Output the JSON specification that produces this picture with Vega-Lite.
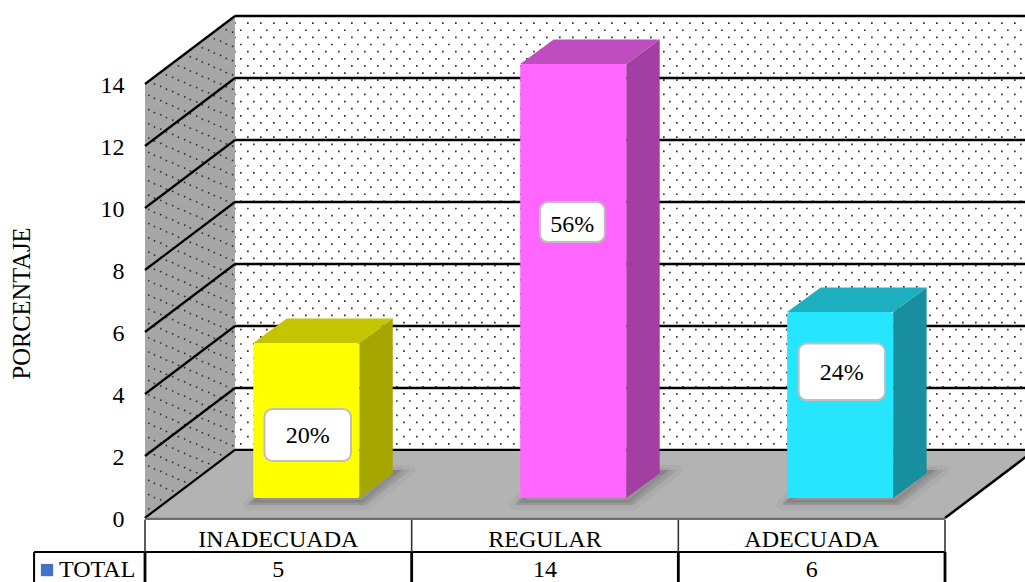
{
"$schema":"https://vega.github.io/schema/vega-lite/v6.json",
"width":800,"height":434,"autosize":"none",
"padding":{"left":145,"top":84,"right":80,"bottom":64},
"background":"white",
"config":{"view":{"stroke":null},"text":{"font":"Liberation Serif"}},
"datasets":{
"bars":[{"category":"INADECUADA","order":0,"total":5,"percent":"20%"},{"category":"REGULAR","order":1,"total":14,"percent":"56%"},{"category":"ADECUADA","order":2,"total":6,"percent":"24%"}],
"depth":[{"d":0},{"d":1}],
"levels":[{"v":0},{"v":2},{"v":4},{"v":6},{"v":8},{"v":10},{"v":12},{"v":14}],
"dotsA":[{"v":13.77},{"v":13.31},{"v":12.85},{"v":12.39},{"v":11.93},{"v":11.47},{"v":11.01},{"v":10.55},{"v":10.09},{"v":9.63},{"v":9.17},{"v":8.71},{"v":8.25},{"v":7.79},{"v":7.33},{"v":6.87},{"v":6.41},{"v":5.95},{"v":5.49},{"v":5.03},{"v":4.57},{"v":4.11},{"v":3.65},{"v":3.19},{"v":2.73},{"v":2.27},{"v":1.81},{"v":1.35},{"v":0.89},{"v":0.43}],
"dotsB":[{"v":13.54},{"v":13.08},{"v":12.62},{"v":12.16},{"v":11.7},{"v":11.24},{"v":10.78},{"v":10.32},{"v":9.86},{"v":9.4},{"v":8.94},{"v":8.48},{"v":8.02},{"v":7.56},{"v":7.1},{"v":6.64},{"v":6.18},{"v":5.72},{"v":5.26},{"v":4.8},{"v":4.34},{"v":3.88},{"v":3.42},{"v":2.96},{"v":2.5},{"v":2.04},{"v":1.58},{"v":1.12},{"v":0.66},{"v":0.2}],
"one":[{"id":1}],
"columns":[{"b":0},{"b":1},{"b":2},{"b":3}]
},
"encoding":{
"x":{"field":"x","type":"quantitative","axis":null,"scale":{"domain":[0,3]}},
"y":{"field":"y","type":"quantitative","scale":{"domain":[0,14]},"axis":{"title":"PORCENTAJE","values":[0,2,4,6,8,10,12,14],"format":"d","grid":false,"domain":false,"ticks":false,"labelPadding":21,"labelOffset":1.5,"labelFont":"Liberation Serif","labelFontSize":24,"labelColor":"#000","titleFont":"Liberation Serif","titleFontSize":24.5,"titleFontWeight":"normal","titleColor":"#000","titleX":-111,"titleY":219}}
},
"layer":[
{"data":{"name":"depth"},"transform":[{"calculate":"datum.d*0.3375","as":"x"},{"calculate":"datum.d*2.1935","as":"y"},{"calculate":"14+datum.d*2.1935","as":"y2"}],
 "mark":{"type":"area","color":"#a6a6a6","clip":false},"encoding":{"y2":{"field":"y2"}}},
{"data":{"name":"dotsA"},"transform":[{"calculate":"0","as":"x"},{"calculate":"0.3375","as":"x2"},{"calculate":"datum.v","as":"y"},{"calculate":"datum.v+2.1935","as":"y2"}],
 "mark":{"type":"rule","color":"#333","strokeWidth":1.6,"strokeDash":[1.6,13.4],"strokeDashOffset":4},"encoding":{"x2":{"field":"x2"},"y2":{"field":"y2"}}},
{"data":{"name":"dotsB"},"transform":[{"calculate":"0","as":"x"},{"calculate":"0.3375","as":"x2"},{"calculate":"datum.v","as":"y"},{"calculate":"datum.v+2.1935","as":"y2"}],
 "mark":{"type":"rule","color":"#333","strokeWidth":1.6,"strokeDash":[1.6,13.4],"strokeDashOffset":11},"encoding":{"x2":{"field":"x2"},"y2":{"field":"y2"}}},
{"data":{"name":"dotsA"},"transform":[{"calculate":"0.3375","as":"x"},{"calculate":"3.3375","as":"x2"},{"calculate":"datum.v+2.1935","as":"y"}],
 "mark":{"type":"rule","color":"#333","strokeWidth":1.7,"strokeDash":[1.7,11.3],"strokeDashOffset":1},"encoding":{"x2":{"field":"x2"}}},
{"data":{"name":"dotsB"},"transform":[{"calculate":"0.3375","as":"x"},{"calculate":"3.3375","as":"x2"},{"calculate":"datum.v+2.1935","as":"y"}],
 "mark":{"type":"rule","color":"#333","strokeWidth":1.7,"strokeDash":[1.7,11.3],"strokeDashOffset":8},"encoding":{"x2":{"field":"x2"}}},
{"data":{"name":"levels"},"transform":[{"calculate":"0.3375","as":"x"},{"calculate":"3.3375","as":"x2"},{"calculate":"datum.v+2.1935","as":"y"}],
 "mark":{"type":"rule","color":"#000","strokeWidth":2.4},"encoding":{"x2":{"field":"x2"}}},
{"data":{"name":"levels"},"transform":[{"calculate":"0","as":"x"},{"calculate":"0.3375","as":"x2"},{"calculate":"datum.v","as":"y"},{"calculate":"datum.v+2.1935","as":"y2"}],
 "mark":{"type":"rule","color":"#000","strokeWidth":2.2},"encoding":{"x2":{"field":"x2"},"y2":{"field":"y2"}}},
{"data":{"name":"depth"},"transform":[{"calculate":"datum.d*0.3375","as":"x"},{"calculate":"3+datum.d*0.3375","as":"x2"},{"calculate":"datum.d*2.1935","as":"y"}],
 "mark":{"type":"area","orient":"horizontal","color":"#b3b3b3"},"encoding":{"x2":{"field":"x2"}}},
{"data":{"name":"levels"},"transform":[{"filter":"datum.v==0"},{"calculate":"0.3375","as":"x"},{"calculate":"3.3375","as":"x2"},{"calculate":"2.1935","as":"y"}],
 "mark":{"type":"rule","color":"#000","strokeWidth":2},"encoding":{"x2":{"field":"x2"}}},
{"data":{"name":"levels"},"transform":[{"filter":"datum.v==0"},{"calculate":"0","as":"x"},{"calculate":"0.3375","as":"x2"},{"calculate":"0","as":"y"},{"calculate":"2.1935","as":"y2"}],
 "mark":{"type":"rule","color":"#000","strokeWidth":2},"encoding":{"x2":{"field":"x2"},"y2":{"field":"y2"}}},
{"data":{"name":"levels"},"transform":[{"filter":"datum.v==0"},{"calculate":"3","as":"x"},{"calculate":"3.3375","as":"x2"},{"calculate":"0","as":"y"},{"calculate":"2.1935","as":"y2"}],
 "mark":{"type":"rule","color":"#000","strokeWidth":2.5},"encoding":{"x2":{"field":"x2"},"y2":{"field":"y2"}}},
{"data":{"name":"one"},"transform":[{"calculate":"0","as":"x"},{"calculate":"3","as":"x2"},{"calculate":"-0.03","as":"y"}],
 "mark":{"type":"rule","color":"#6e6e6e","strokeWidth":2.2},"encoding":{"x2":{"field":"x2"}}},
{"data":{"name":"one"},"transform":[{"calculate":"-0.416","as":"x"},{"calculate":"3","as":"x2"},{"calculate":"-1.097","as":"y"}],
 "mark":{"type":"rule","color":"#000","strokeWidth":1.8},"encoding":{"x2":{"field":"x2"}}},
{"data":{"name":"one"},"transform":[{"calculate":"-0.416","as":"x"},{"calculate":"-1.097","as":"y"},{"calculate":"-2.1","as":"y2"}],
 "mark":{"type":"rule","color":"#000","strokeWidth":2},"encoding":{"y2":{"field":"y2"}}},
{"data":{"name":"columns"},"transform":[{"calculate":"datum.b","as":"x"},{"calculate":"-0.06","as":"y"},{"calculate":"-1.097","as":"y2"}],
 "mark":{"type":"rule","color":"#333","strokeWidth":1.6},"encoding":{"y2":{"field":"y2"}}},
{"data":{"name":"columns"},"transform":[{"calculate":"datum.b","as":"x"},{"calculate":"-1.097","as":"y"},{"calculate":"-2.1","as":"y2"}],
 "mark":{"type":"rule","color":"#000","strokeWidth":2.8},"encoding":{"y2":{"field":"y2"}}},
{"data":{"name":"bars"},"transform":[{"calculate":"[0,1]","as":"d"},{"flatten":["d"]},{"calculate":"datum.order*1.001+0.385+datum.d*0.1256","as":"x"},{"calculate":"datum.order*1.001+0.83+datum.d*0.1656","as":"x2"},{"calculate":"0.42+datum.d*1.13","as":"y"}],
 "mark":{"type":"area","orient":"horizontal","color":"#000","fillOpacity":0.08,"stroke":"#000","strokeOpacity":0.04,"strokeWidth":10,"strokeJoin":"round"},"encoding":{"x2":{"field":"x2"},"detail":{"field":"category"}}},
{"data":{"name":"bars"},"transform":[{"calculate":"[0,1]","as":"d"},{"flatten":["d"]},{"calculate":"datum.order*1.001+0.4+datum.d*0.1256","as":"x"},{"calculate":"datum.order*1.001+0.815+datum.d*0.1456","as":"x2"},{"calculate":"0.5+datum.d*1.05","as":"y"}],
 "mark":{"type":"area","orient":"horizontal","color":"#000","fillOpacity":0.1,"stroke":"#000","strokeOpacity":0.05,"strokeWidth":5,"strokeJoin":"round"},"encoding":{"x2":{"field":"x2"},"detail":{"field":"category"}}},
{"data":{"name":"bars"},"transform":[{"calculate":"[0,1]","as":"d"},{"flatten":["d"]},{"calculate":"datum.order*1.001+0.8035+datum.d*0.1256","as":"x"},{"calculate":"datum.total+0.645+datum.d*0.79","as":"y"},{"calculate":"0.645+datum.d*0.79","as":"y2"}],
 "mark":{"type":"area"},"encoding":{"y2":{"field":"y2"},"detail":{"field":"category"},"color":{"field":"category","legend":null,"scale":{"domain":["INADECUADA","REGULAR","ADECUADA"],"range":["#a6a600","#a33fa3","#178f9f"]}}}},
{"data":{"name":"bars"},"transform":[{"calculate":"[0,1]","as":"d"},{"flatten":["d"]},{"calculate":"datum.order*1.001+0.406+datum.d*0.1256","as":"x"},{"calculate":"datum.order*1.001+0.8035+datum.d*0.1256","as":"x2"},{"calculate":"datum.total+0.645+datum.d*0.79","as":"y"}],
 "mark":{"type":"area","orient":"horizontal"},"encoding":{"x2":{"field":"x2"},"detail":{"field":"category"},"color":{"field":"category","legend":null,"scale":{"domain":["INADECUADA","REGULAR","ADECUADA"],"range":["#c4c400","#bf4dbf","#1db0c0"]}}}},
{"data":{"name":"bars"},"transform":[{"calculate":"datum.order*1.001+0.406","as":"x"},{"calculate":"datum.order*1.001+0.8035","as":"x2"},{"calculate":"datum.total+0.645","as":"y"},{"calculate":"0.645","as":"y2"}],
 "mark":{"type":"rect","cornerRadius":2},"encoding":{"x2":{"field":"x2"},"y2":{"field":"y2"},"color":{"field":"category","legend":null,"scale":{"domain":["INADECUADA","REGULAR","ADECUADA"],"range":["#ffff00","#ff66ff","#25e6fe"]}}}},
{"data":{"name":"bars"},"transform":[{"calculate":"[0.448,1.481,2.451][datum.order]","as":"x"},{"calculate":"[0.7725,1.724,2.775][datum.order]","as":"x2"},{"calculate":"[3.516,10.19,5.629][datum.order]","as":"y"},{"calculate":"[1.839,8.9,3.806][datum.order]","as":"y2"}],
 "mark":{"type":"rect","fill":"#fff","stroke":"#bfbfbf","strokeWidth":2,"cornerRadius":8},"encoding":{"x2":{"field":"x2"},"y2":{"field":"y2"}}},
{"data":{"name":"bars"},"transform":[{"calculate":"[0.61,1.6025,2.613][datum.order]","as":"x"},{"calculate":"[2.64,9.46,4.68][datum.order]","as":"y"}],
 "mark":{"type":"text","fontSize":24,"color":"#000","baseline":"middle"},"encoding":{"text":{"field":"percent"}}},
{"data":{"name":"bars"},"transform":[{"calculate":"datum.order+0.5","as":"x"},{"calculate":"-0.71","as":"y"}],
 "mark":{"type":"text","fontSize":24,"color":"#000","baseline":"middle"},"encoding":{"text":{"field":"category"}}},
{"data":{"name":"bars"},"transform":[{"calculate":"datum.order+0.5","as":"x"},{"calculate":"-1.68","as":"y"}],
 "mark":{"type":"text","fontSize":24,"color":"#000","baseline":"middle"},"encoding":{"text":{"field":"total"}}},
{"data":{"name":"one"},"transform":[{"calculate":"-0.3225","as":"x"},{"calculate":"-1.68","as":"y"},{"calculate":"'TOTAL'","as":"label"}],
 "mark":{"type":"text","fontSize":24,"color":"#000","baseline":"middle","align":"left"},"encoding":{"text":{"field":"label"}}},
{"data":{"name":"one"},"transform":[{"calculate":"-0.3675","as":"x"},{"calculate":"-1.68","as":"y"}],
 "mark":{"type":"point","shape":"square","filled":true,"size":150,"color":"#4472c4","opacity":1}}
],
"resolve":{"scale":{"color":"independent"}}
}
